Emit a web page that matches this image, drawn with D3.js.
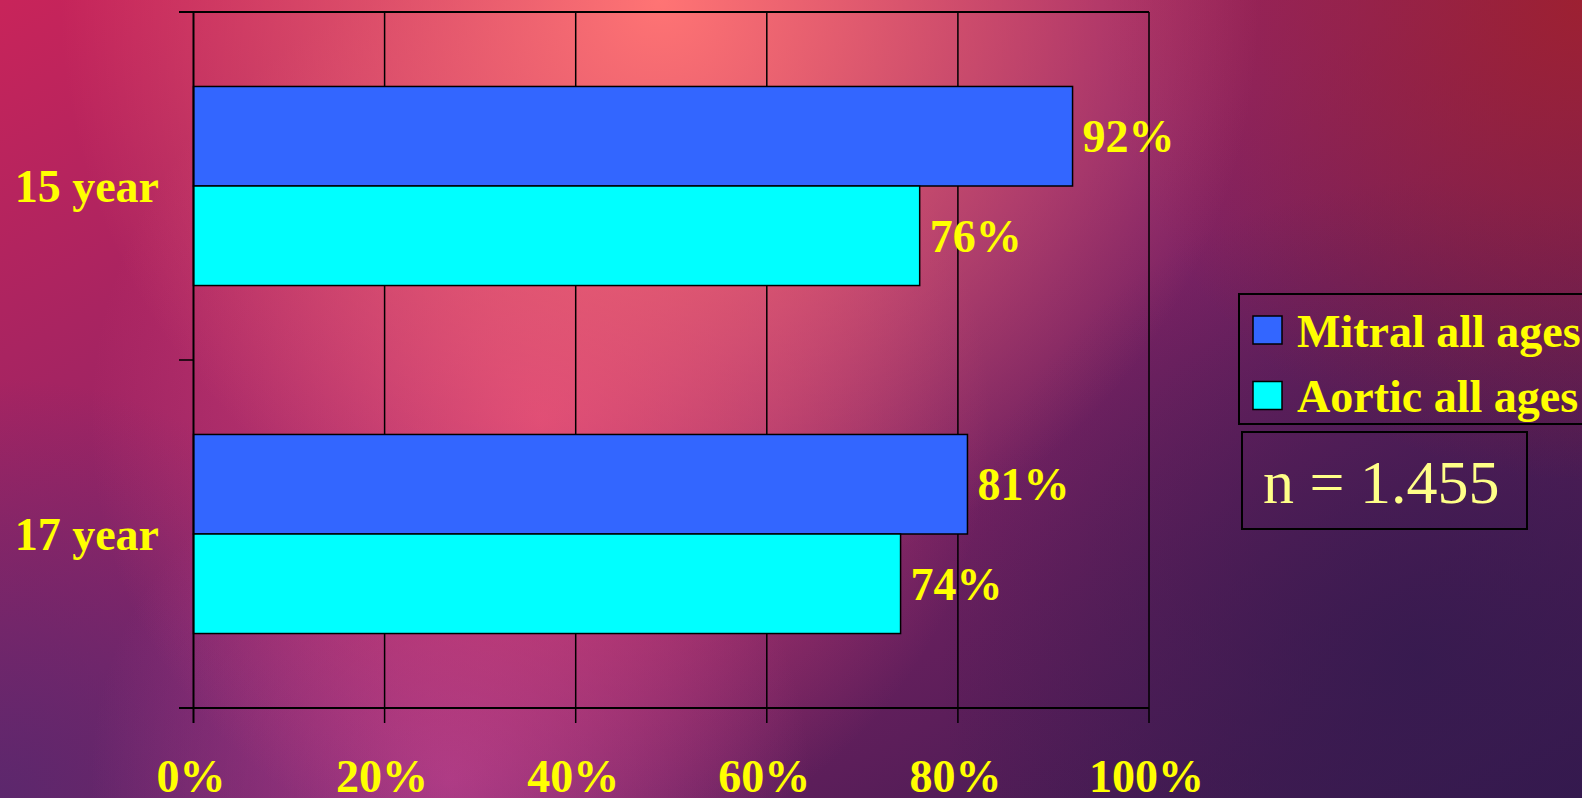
<!DOCTYPE html>
<html>
<head>
<meta charset="utf-8">
<script src="https://cdn.jsdelivr.net/npm/d3@7"></script>
<style>
  body { margin: 0; background: #3a1c52; overflow: hidden; }
  text { font-family: "Liberation Serif", "Times New Roman", serif; }
</style>
</head>
<body>
<div id="chart"></div>
<script>
// chart data
var categories = ["15 year", "17 year"];
var seriesNames = ["Mitral all ages", "Aortic all ages"];
var mitral = [0.92, 0.81];
var aortic = [0.76, 0.74];
var xTicks = [0, 0.2, 0.4, 0.6, 0.8, 1.0];
var xTickLabels = ["0%", "20%", "40%", "60%", "80%", "100%"];
var sampleNote = "n = 1.455";

var svgWidth = 1582;
var svgHeight = 798;

var plot = { left: 193.5, right: 1149, top: 12, bottom: 708 };

var svg = d3.select("#chart")
  .append("svg")
  .attr("width", svgWidth)
  .attr("height", svgHeight);

// background: layered gradients
var defs = svg.append("defs");

var base = defs.append("linearGradient")
  .attr("id", "bgBase")
  .attr("x1", "0").attr("y1", "0").attr("x2", "1").attr("y2", "1");
base.append("stop").attr("offset", "0").attr("stop-color", "#c8245a");
base.append("stop").attr("offset", "0.45").attr("stop-color", "#8a2468");
base.append("stop").attr("offset", "1").attr("stop-color", "#35194e");

function radial(id, cx, cy, r, color, op) {
  var g = defs.append("radialGradient")
    .attr("id", id)
    .attr("gradientUnits", "userSpaceOnUse")
    .attr("cx", cx).attr("cy", cy).attr("r", r);
  g.append("stop").attr("offset", "0").attr("stop-color", color).attr("stop-opacity", op);
  g.append("stop").attr("offset", "1").attr("stop-color", color).attr("stop-opacity", 0);
}
radial("glowTop", 660, 0, 600, "#ff7474", 1);
radial("glowMid", 540, 420, 450, "#e8487a", 0.8);
radial("glowBottom", 450, 780, 360, "#b84294", 0.75);
radial("redCorner", 1582, 0, 480, "#a0202c", 0.9);
radial("darkRight", 1420, 660, 480, "#331a4e", 0.8);
radial("purpleBL", 0, 798, 420, "#55286e", 0.85);

svg.append("rect").attr("width", svgWidth).attr("height", svgHeight).attr("fill", "url(#bgBase)");
["purpleBL", "darkRight", "redCorner", "glowBottom", "glowMid", "glowTop"].forEach(function(id) {
  svg.append("rect").attr("width", svgWidth).attr("height", svgHeight).attr("fill", "url(#" + id + ")");
});

// scales
var x = d3.scaleLinear()
  .domain([0, 1])
  .range([plot.left, plot.right]);

var y = d3.scaleBand()
  .domain(categories)
  .range([plot.top, plot.bottom])
  .paddingInner(0.428)
  .paddingOuter(0.214);

var ySub = d3.scaleBand()
  .domain(seriesNames)
  .range([0, y.bandwidth()]);

var colors = d3.scaleOrdinal()
  .domain(seriesNames)
  .range(["#3366ff", "#00ffff"]);

// gridlines (with outward tick below axis)
svg.append("g")
  .selectAll("line")
  .data(xTicks.slice(1))
  .enter()
  .append("line")
  .attr("x1", d => x(d))
  .attr("x2", d => x(d))
  .attr("y1", plot.top)
  .attr("y2", plot.bottom + 15)
  .attr("stroke", "#000")
  .attr("stroke-width", 1.5);

// bars
var rows = categories.map((c, i) => ({ cat: c, values: [mitral[i], aortic[i]] }));

var groups = svg.selectAll(".bar-group")
  .data(rows)
  .enter()
  .append("g")
  .classed("bar-group", true)
  .attr("transform", d => `translate(0, ${y(d.cat)})`);

groups.selectAll("rect")
  .data(d => d.values.map((v, j) => ({ name: seriesNames[j], value: v })))
  .enter()
  .append("rect")
  .attr("x", x(0))
  .attr("y", d => ySub(d.name))
  .attr("width", d => x(d.value) - x(0))
  .attr("height", ySub.bandwidth())
  .attr("fill", d => colors(d.name))
  .attr("stroke", "#000")
  .attr("stroke-width", 1.5);

// value labels
groups.selectAll("text")
  .data(d => d.values.map((v, j) => ({ name: seriesNames[j], value: v })))
  .enter()
  .append("text")
  .attr("x", d => x(d.value) + 10)
  .attr("y", d => ySub(d.name) + ySub.bandwidth() / 2 + 16)
  .attr("fill", "#ffff00")
  .attr("font-weight", "bold")
  .attr("font-size", "46px")
  .text(d => Math.round(d.value * 100) + "%");

// axis frame lines
svg.append("line")
  .attr("x1", plot.left - 14.5).attr("x2", plot.right)
  .attr("y1", plot.top).attr("y2", plot.top)
  .attr("stroke", "#000").attr("stroke-width", 2);
svg.append("line")
  .attr("x1", plot.left - 14.5).attr("x2", plot.right)
  .attr("y1", plot.bottom).attr("y2", plot.bottom)
  .attr("stroke", "#000").attr("stroke-width", 2);
svg.append("line")
  .attr("x1", plot.left).attr("x2", plot.left)
  .attr("y1", plot.top).attr("y2", plot.bottom + 15)
  .attr("stroke", "#000").attr("stroke-width", 2);

// category boundary ticks on y axis
var boundaries = categories.map(c => y(c) - y.step() * y.paddingInner() / 2).slice(1);
svg.append("g")
  .selectAll("line")
  .data(boundaries)
  .enter()
  .append("line")
  .attr("x1", plot.left - 14.5)
  .attr("x2", plot.left)
  .attr("y1", d => d)
  .attr("y2", d => d)
  .attr("stroke", "#000")
  .attr("stroke-width", 1.5);

// x axis labels
var xAxis = d3.axisBottom(x)
  .tickValues(xTicks)
  .tickFormat((d, i) => xTickLabels[i])
  .tickSize(0)
  .tickPadding(0);

var xAxisG = svg.append("g")
  .attr("transform", `translate(-3, ${plot.bottom + 84})`)
  .call(xAxis);
xAxisG.select(".domain").remove();
xAxisG.selectAll("text")
  .attr("dy", 0)
  .attr("y", 0)
  .attr("fill", "#ffff00")
  .attr("font-weight", "bold")
  .attr("font-size", "46px")
  .attr("font-family", "'Liberation Serif', 'Times New Roman', serif");

// y axis labels
var yAxis = d3.axisLeft(y)
  .tickSize(0)
  .tickPadding(0);

var yAxisG = svg.append("g")
  .attr("transform", `translate(${plot.left - 34.5}, 0)`)
  .call(yAxis);
yAxisG.select(".domain").remove();
yAxisG.selectAll("text")
  .attr("dy", 16)
  .attr("x", 0)
  .attr("fill", "#ffff00")
  .attr("font-weight", "bold")
  .attr("font-size", "46px")
  .attr("font-family", "'Liberation Serif', 'Times New Roman', serif");

// legend
var legend = svg.append("g");
legend.append("rect")
  .attr("x", 1239).attr("y", 294)
  .attr("width", 400).attr("height", 130)
  .attr("fill", "none")
  .attr("stroke", "#000")
  .attr("stroke-width", 2);

var legendItems = legend.selectAll(".legend-item")
  .data(seriesNames)
  .enter()
  .append("g")
  .classed("legend-item", true)
  .attr("transform", (d, i) => `translate(1253, ${316 + i * 65.5})`);

legendItems.append("rect")
  .attr("width", 29)
  .attr("height", 28)
  .attr("fill", d => colors(d))
  .attr("stroke", "#000")
  .attr("stroke-width", 1.5);

legendItems.append("text")
  .attr("x", 44)
  .attr("y", 30.5)
  .attr("fill", "#ffff00")
  .attr("font-weight", "bold")
  .attr("font-size", "46px")
  .text(d => d);

// sample size box
svg.append("rect")
  .attr("x", 1242).attr("y", 432)
  .attr("width", 285).attr("height", 97)
  .attr("fill", "none")
  .attr("stroke", "#000")
  .attr("stroke-width", 2);

svg.append("text")
  .attr("x", 1263)
  .attr("y", 503)
  .attr("fill", "#ffff88")
  .attr("font-size", "62px")
  .text(sampleNote);
</script>
</body>
</html>
